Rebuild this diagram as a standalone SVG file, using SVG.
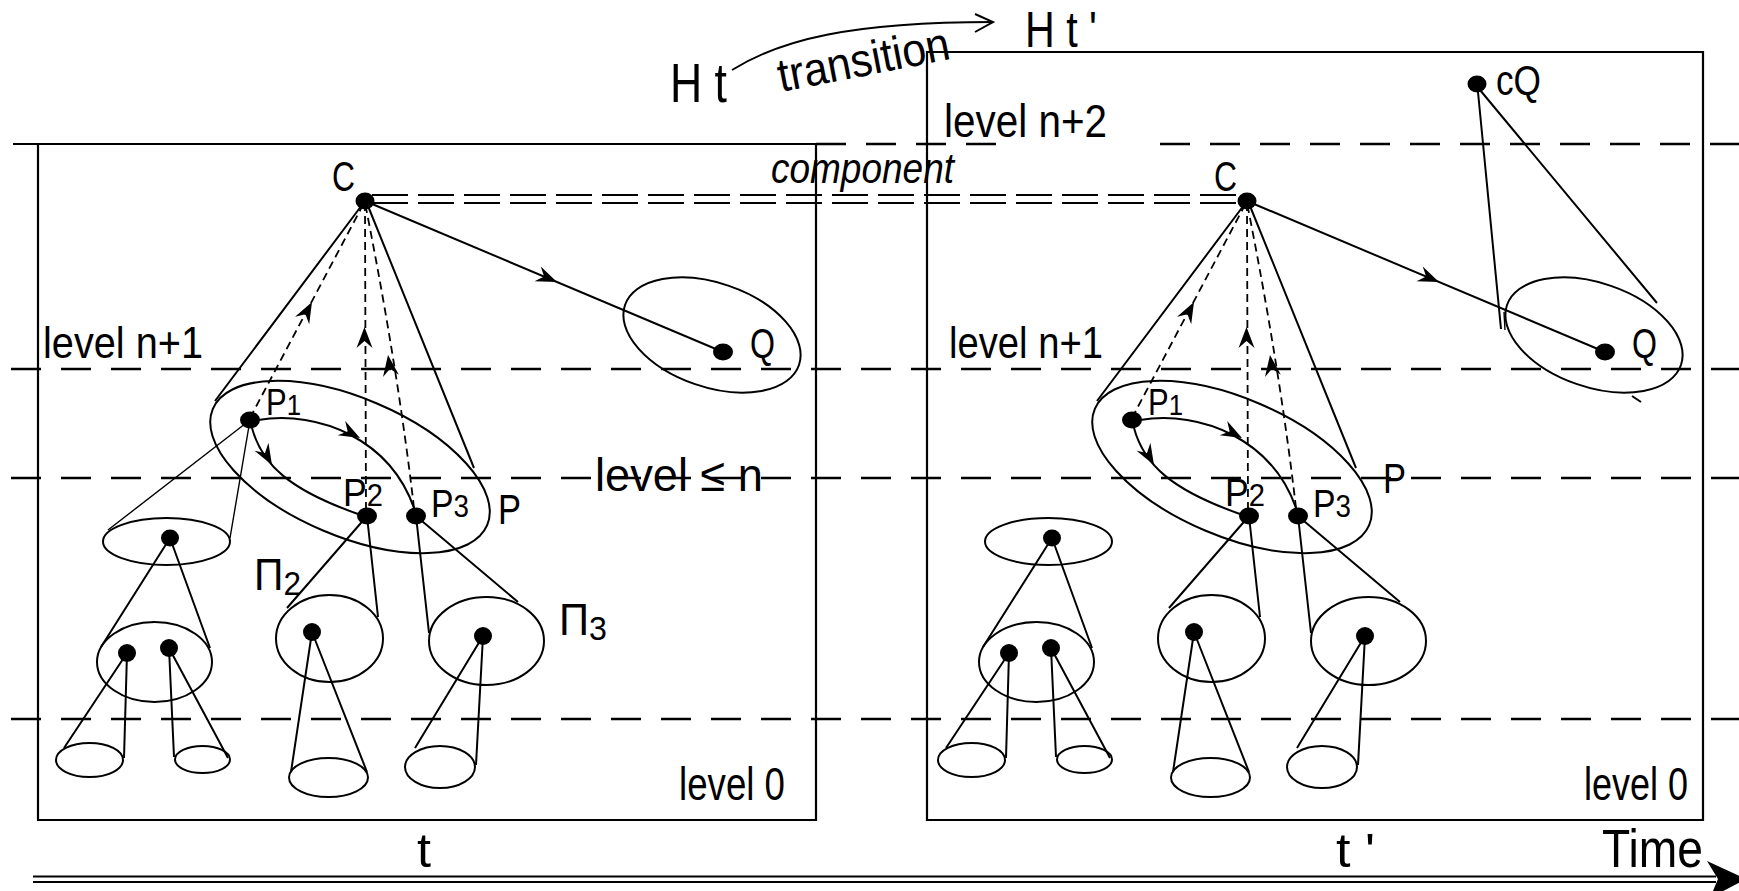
<svg xmlns="http://www.w3.org/2000/svg" width="1739" height="891" viewBox="0 0 1739 891">
<defs>
  <style>
    .ln{stroke:#000;stroke-width:2;fill:none}
    .thin{stroke:#000;stroke-width:1.4;fill:none}
    .frame{stroke:#000;stroke-width:2.2;fill:none}
    .lvl{stroke:#000;stroke-width:2.4;stroke-dasharray:30 20;fill:none}
    .comp{stroke:#000;stroke-width:2.2;stroke-dasharray:36 10;fill:none}
    .dsh{stroke:#000;stroke-width:1.8;stroke-dasharray:8 5;fill:none}
    .dot{fill:#000}
    .txt{font-family:"Liberation Sans Narrow","Liberation Sans",Arial,sans-serif;fill:#000}
  </style>
  <!-- barbed arrowhead, tip at origin, pointing along +x -->
  <path id="ah" d="M0,0 L-21,-8 L-14,0 L-21,8 Z" fill="#000"/>
</defs>

<rect width="1739" height="891" fill="#fff"/>

<!-- time frames -->
<g id="frames">
  <path class="frame" d="M13,144 H816 V820 H38 V144"/>
  <path class="frame" d="M927,820 V52 H1703 V820 Z"/>
</g>

<!-- level boundaries -->
<g id="levels">
  <path class="lvl" d="M816,144 H1000 M1160,144 H1739"/>
  <path class="lvl" d="M11,369 H1739"/>
  <path class="lvl" d="M11,478 H1739"/>
  <path class="lvl" d="M11,719 H1739"/>
</g>

<!-- connectors -->
<g id="connectors">
  <!-- component link between the two C nodes -->
  <path class="comp" d="M372,195 H1236 M372,203 H1236"/>

  <!-- transition H t -> H t' -->
  <path class="ln" d="M732,70 C780,40 850,22 993,22"/>
  <path class="ln" d="M975,14 L993,22 L975,32"/>

  <!-- time axis -->
  <path class="frame" d="M33,876.5 H1716 M33,882 H1716"/>
  <polygon points="1707,861 1746,879 1710,898 1718,879" fill="#000"/>

  <!-- left snapshot -->
  <g id="links-t">
    <path class="ln" d="M362,205 L215,401 M368,206 L474,468"/>
    <path class="ln" d="M365,201 L723,352"/>
    <use href="#ah" transform="translate(557,282) rotate(22.9)"/>
    <path class="dsh" d="M250,418 L364,203"/>
    <use href="#ah" transform="translate(312,302) rotate(-62)"/>
    <path class="dsh" d="M366,510 L365,208"/>
    <use href="#ah" transform="translate(364.5,327) rotate(-90)"/>
    <path class="dsh" d="M414,508 Q398,370 366,208"/>
    <use href="#ah" transform="translate(388,355) rotate(-98)"/>
    <path class="ln" d="M258,420 C320,410 390,440 414,508"/>
    <use href="#ah" transform="translate(360,438) rotate(28)"/>
    <path class="ln" d="M252,428 C262,465 290,490 358,514"/>
    <use href="#ah" transform="translate(272,465) rotate(60)"/>
    <path class="thin" d="M250,420 L108,530 M250,420 L230,538"/>
    <path class="ln" d="M170,538 L101,647 M170,538 L210,648"/>
    <path class="ln" d="M127,653 L64,748 M127,653 L124,758"/>
    <path class="ln" d="M169,648 L174,757 M169,648 L228,758"/>
    <path class="ln" d="M367,516 L287,608 M367,516 L378,617"/>
    <path class="ln" d="M312,632 L291,772 M312,632 L367,772"/>
    <path class="ln" d="M416,516 L429,633 M416,516 L518,602"/>
    <path class="ln" d="M483,636 L415,748 M483,636 L476,765"/>
  </g>

  <!-- right snapshot -->
  <g id="links-t2" transform="translate(882,0)">
    <path class="ln" d="M362,205 L215,401 M368,206 L474,468"/>
    <path class="ln" d="M365,201 L723,352"/>
    <use href="#ah" transform="translate(557,282) rotate(22.9)"/>
    <path class="dsh" d="M250,418 L364,203"/>
    <use href="#ah" transform="translate(312,302) rotate(-62)"/>
    <path class="dsh" d="M366,510 L365,208"/>
    <use href="#ah" transform="translate(364.5,327) rotate(-90)"/>
    <path class="dsh" d="M414,508 Q398,370 366,208"/>
    <use href="#ah" transform="translate(388,355) rotate(-98)"/>
    <path class="ln" d="M258,420 C320,410 390,440 414,508"/>
    <use href="#ah" transform="translate(360,438) rotate(28)"/>
    <path class="ln" d="M252,428 C262,465 290,490 358,514"/>
    <use href="#ah" transform="translate(272,465) rotate(60)"/>
    <path class="ln" d="M170,538 L101,647 M170,538 L210,648"/>
    <path class="ln" d="M127,653 L64,748 M127,653 L124,758"/>
    <path class="ln" d="M169,648 L174,757 M169,648 L228,758"/>
    <path class="ln" d="M367,516 L287,608 M367,516 L378,617"/>
    <path class="ln" d="M312,632 L291,772 M312,632 L367,772"/>
    <path class="ln" d="M416,516 L429,633 M416,516 L518,602"/>
    <path class="ln" d="M483,636 L415,748 M483,636 L476,765"/>
    <!-- cQ cone onto Q -->
    <path class="ln" d="M596,92 L619,329 M598,90 L775,303"/>
    <path class="thin" d="M622,312 L623,330"/>
    <path class="ln" d="M750,396 L759,402"/>
  </g>
</g>

<!-- header labels -->
<g id="header">
  <text class="txt" x="670" y="102" font-size="56" textLength="57" lengthAdjust="spacingAndGlyphs">H t</text>
  <text class="txt" x="1025" y="47" font-size="50" textLength="72" lengthAdjust="spacingAndGlyphs">H t '</text>
  <text class="txt" transform="translate(781,92) rotate(-11)" font-size="47" textLength="174" lengthAdjust="spacingAndGlyphs">transition</text>
  <text class="txt" x="771" y="183" font-size="42" font-style="italic" textLength="183" lengthAdjust="spacingAndGlyphs">component</text>
  <text class="txt" x="944" y="137" font-size="47" textLength="163" lengthAdjust="spacingAndGlyphs">level n+2</text>
  <text class="txt" x="43" y="358" font-size="45" textLength="160" lengthAdjust="spacingAndGlyphs">level n+1</text>
  <text class="txt" x="949" y="358" font-size="45" textLength="154" lengthAdjust="spacingAndGlyphs">level n+1</text>
  <text class="txt" x="595" y="491" font-size="47" textLength="168" lengthAdjust="spacingAndGlyphs">level ≤ n</text>
  <text class="txt" x="679" y="800" font-size="46" textLength="106" lengthAdjust="spacingAndGlyphs">level 0</text>
  <text class="txt" x="1584" y="800" font-size="46" textLength="104" lengthAdjust="spacingAndGlyphs">level 0</text>
  <text class="txt" x="417" y="867" font-size="48" textLength="14" lengthAdjust="spacingAndGlyphs">t</text>
  <text class="txt" x="1336" y="867" font-size="48" textLength="39" lengthAdjust="spacingAndGlyphs">t '</text>
  <text class="txt" x="1602" y="867" font-size="54" textLength="101" lengthAdjust="spacingAndGlyphs">Time</text>
</g>

<!-- left snapshot nodes -->
<g id="C">
  <ellipse class="dot" cx="365" cy="201" rx="9.5" ry="8.5"/>
  <text class="txt" x="332" y="191" font-size="42" textLength="23" lengthAdjust="spacingAndGlyphs">C</text>
</g>
<g id="Q">
  <ellipse class="ln" cx="712" cy="335" rx="92" ry="52" transform="rotate(19 712 335)"/>
  <ellipse class="dot" cx="723" cy="352" rx="10" ry="8.5"/>
  <text class="txt" x="750" y="358" font-size="43" textLength="25" lengthAdjust="spacingAndGlyphs">Q</text>
</g>
<g id="P">
  <ellipse class="ln" cx="350" cy="467" rx="149" ry="69" transform="rotate(23 350 467)"/>
  <text class="txt" x="498" y="524" font-size="42" textLength="23" lengthAdjust="spacingAndGlyphs">P</text>
</g>
<g id="P1">
  <ellipse class="dot" cx="250" cy="420" rx="10" ry="8.5"/>
  <text class="txt" x="266" y="415" font-size="36" textLength="35" lengthAdjust="spacingAndGlyphs">P<tspan font-size="30">1</tspan></text>
</g>
<g id="P2">
  <ellipse class="dot" cx="367" cy="516" rx="10" ry="8.5"/>
  <text class="txt" x="343" y="506" font-size="38" textLength="40" lengthAdjust="spacingAndGlyphs">P<tspan font-size="31">2</tspan></text>
</g>
<g id="P3">
  <ellipse class="dot" cx="416" cy="516" rx="10" ry="8.5"/>
  <text class="txt" x="431" y="517" font-size="39" textLength="38" lengthAdjust="spacingAndGlyphs">P<tspan font-size="32">3</tspan></text>
</g>
<g id="Pi1">
  <ellipse class="ln" cx="166.5" cy="541.5" rx="63.5" ry="23.5"/>
  <ellipse class="dot" cx="170" cy="538" rx="9" ry="8.5"/>
  <ellipse class="ln" cx="154.5" cy="662" rx="57.5" ry="40"/>
  <ellipse class="dot" cx="127" cy="653" rx="9" ry="9"/>
  <ellipse class="dot" cx="169" cy="648" rx="9" ry="9"/>
  <ellipse class="ln" cx="89.5" cy="760" rx="33.5" ry="17"/>
  <ellipse class="ln" cx="202.5" cy="759.5" rx="27.5" ry="13.5"/>
</g>
<g id="Pi2">
  <ellipse class="ln" cx="329.5" cy="638.5" rx="53.5" ry="43.5"/>
  <ellipse class="dot" cx="312" cy="632" rx="9" ry="9"/>
  <ellipse class="ln" cx="328.5" cy="777.5" rx="39.5" ry="19.5"/>
  <text class="txt" x="254" y="590" font-size="44" textLength="47" lengthAdjust="spacingAndGlyphs">Π<tspan font-size="34" dy="5">2</tspan></text>
</g>
<g id="Pi3">
  <ellipse class="ln" cx="486.5" cy="641" rx="57.5" ry="44"/>
  <ellipse class="dot" cx="483" cy="636" rx="9" ry="9"/>
  <ellipse class="ln" cx="440" cy="767" rx="35" ry="21"/>
  <text class="txt" x="559" y="635" font-size="44" textLength="48" lengthAdjust="spacingAndGlyphs">Π<tspan font-size="34" dy="5">3</tspan></text>
</g>

<!-- right snapshot nodes -->
<g transform="translate(882,0)">
  <g id="C-t2">
    <ellipse class="dot" cx="365" cy="201" rx="9.5" ry="8.5"/>
    <text class="txt" x="332" y="191" font-size="42" textLength="23" lengthAdjust="spacingAndGlyphs">C</text>
  </g>
  <g id="Q-t2">
    <ellipse class="ln" cx="712" cy="335" rx="92" ry="52" transform="rotate(19 712 335)"/>
    <ellipse class="dot" cx="723" cy="352" rx="10" ry="8.5"/>
    <text class="txt" x="750" y="358" font-size="43" textLength="25" lengthAdjust="spacingAndGlyphs">Q</text>
  </g>
  <g id="cQ-t2">
    <ellipse class="dot" cx="595" cy="84" rx="9.5" ry="8.5"/>
    <text class="txt" x="614" y="95" font-size="43" textLength="45" lengthAdjust="spacingAndGlyphs">cQ</text>
  </g>
  <g id="P-t2">
    <ellipse class="ln" cx="350" cy="467" rx="149" ry="69" transform="rotate(23 350 467)"/>
    <text class="txt" x="501" y="493" font-size="42" textLength="23" lengthAdjust="spacingAndGlyphs">P</text>
  </g>
  <g id="P1-t2">
    <ellipse class="dot" cx="250" cy="420" rx="10" ry="8.5"/>
    <text class="txt" x="266" y="415" font-size="36" textLength="35" lengthAdjust="spacingAndGlyphs">P<tspan font-size="30">1</tspan></text>
  </g>
  <g id="P2-t2">
    <ellipse class="dot" cx="367" cy="516" rx="10" ry="8.5"/>
    <text class="txt" x="343" y="506" font-size="38" textLength="40" lengthAdjust="spacingAndGlyphs">P<tspan font-size="31">2</tspan></text>
  </g>
  <g id="P3-t2">
    <ellipse class="dot" cx="416" cy="516" rx="10" ry="8.5"/>
    <text class="txt" x="431" y="517" font-size="39" textLength="38" lengthAdjust="spacingAndGlyphs">P<tspan font-size="32">3</tspan></text>
  </g>
  <g id="Pi1-t2">
    <ellipse class="ln" cx="166.5" cy="541.5" rx="63.5" ry="23.5"/>
    <ellipse class="dot" cx="170" cy="538" rx="9" ry="8.5"/>
    <ellipse class="ln" cx="154.5" cy="662" rx="57.5" ry="40"/>
    <ellipse class="dot" cx="127" cy="653" rx="9" ry="9"/>
    <ellipse class="dot" cx="169" cy="648" rx="9" ry="9"/>
    <ellipse class="ln" cx="89.5" cy="760" rx="33.5" ry="17"/>
    <ellipse class="ln" cx="202.5" cy="759.5" rx="27.5" ry="13.5"/>
  </g>
  <g id="Pi2-t2">
    <ellipse class="ln" cx="329.5" cy="638.5" rx="53.5" ry="43.5"/>
    <ellipse class="dot" cx="312" cy="632" rx="9" ry="9"/>
    <ellipse class="ln" cx="328.5" cy="777.5" rx="39.5" ry="19.5"/>
  </g>
  <g id="Pi3-t2">
    <ellipse class="ln" cx="486.5" cy="641" rx="57.5" ry="44"/>
    <ellipse class="dot" cx="483" cy="636" rx="9" ry="9"/>
    <ellipse class="ln" cx="440" cy="767" rx="35" ry="21"/>
  </g>
</g>
</svg>
